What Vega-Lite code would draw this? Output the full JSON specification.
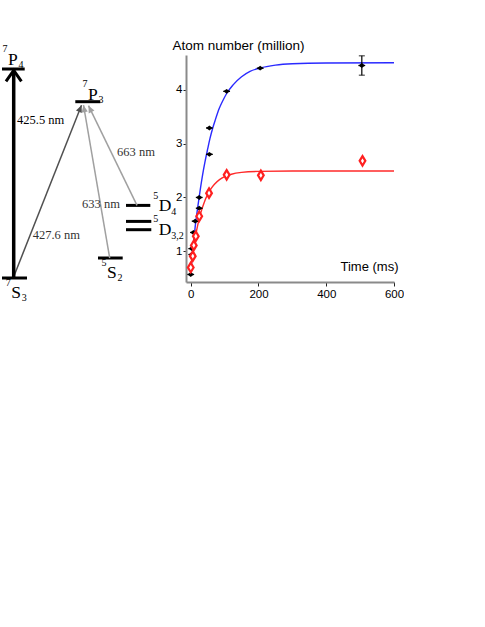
{
  "$schema": "https://vega.github.io/schema/vega-lite/v6.json",
  "padding": {"left": 0, "top": 38, "right": 0, "bottom": 0},
  "bounds": "flush",
  "spacing": 0,
  "resolve": {"scale": {"color": "independent"}},
  "config": {"view": {"stroke": null}, "font": "Liberation Sans"},
  "datasets": {
    "levels": [
      {"term": "7S3", "x1": 0, "x2": 2.5, "y": 0, "letter": "S", "sup": "7", "sub": "3", "lx": 0.93, "ly": -2.0},
      {"term": "7P4", "x1": 0, "x2": 2.27, "y": 20.9, "letter": "P", "sup": "7", "sub": "4", "lx": 0.6, "ly": 21.33},
      {"term": "7P3", "x1": 7.33, "x2": 9.83, "y": 17.63, "letter": "P", "sup": "7", "sub": "3", "lx": 8.6, "ly": 17.83},
      {"term": "5S2", "x1": 9.6, "x2": 12.07, "y": 2.0, "letter": "S", "sup": "5", "sub": "2", "lx": 10.5, "ly": 0.0},
      {"term": "5D4", "x1": 12.4, "x2": 14.83, "y": 7.26, "letter": "D", "sup": "5", "sub": "4", "lx": 15.67, "ly": 6.66},
      {"term": "5D3", "x1": 12.4, "x2": 14.93, "y": 5.66, "letter": "D", "sup": "5", "sub": "3,2", "lx": 15.67, "ly": 4.33},
      {"term": "5D2", "x1": 12.4, "x2": 14.93, "y": 4.83}
    ],
    "transitions": [
      {"label": "425.5 nm", "x0": 1.17, "y0": 0, "x1": 1.17, "y1": 20.76, "lx": 1.5, "ly": 15.76},
      {"label": "427.6 nm", "x0": 1.17, "y0": 0.13, "x1": 7.95, "y1": 17.28, "lx": 3.07, "ly": 4.26},
      {"label": "633 nm", "x0": 10.77, "y0": 2.0, "x1": 8.15, "y1": 17.28, "lx": 8.0, "ly": 7.43},
      {"label": "663 nm", "x0": 13.5, "y0": 7.26, "x1": 8.65, "y1": 17.23, "lx": 11.5, "ly": 12.56}
    ],
    "points": [
      {"series": "s1", "t": 0, "N": 0.57, "terr": 10},
      {"series": "s1", "t": 3, "N": 0.94, "terr": 10},
      {"series": "s1", "t": 3, "N": 1.05, "terr": 10},
      {"series": "s1", "t": 8, "N": 1.35, "terr": 10},
      {"series": "s1", "t": 13, "N": 1.56, "terr": 10},
      {"series": "s1", "t": 25, "N": 1.80, "terr": 10},
      {"series": "s1", "t": 25, "N": 2.00, "terr": 10},
      {"series": "s1", "t": 55, "N": 2.80, "terr": 10},
      {"series": "s1", "t": 55, "N": 3.29, "terr": 10},
      {"series": "s1", "t": 106, "N": 3.97, "terr": 10},
      {"series": "s1", "t": 205, "N": 4.40, "terr": 10},
      {"series": "s1", "t": 505, "N": 4.45, "terr": 10, "nerr": 0.18},
      {"series": "s2", "t": 0, "N": 0.70},
      {"series": "s2", "t": 6, "N": 0.91},
      {"series": "s2", "t": 9, "N": 1.11},
      {"series": "s2", "t": 15, "N": 1.28},
      {"series": "s2", "t": 25, "N": 1.65},
      {"series": "s2", "t": 54, "N": 2.08},
      {"series": "s2", "t": 106, "N": 2.42},
      {"series": "s2", "t": 207, "N": 2.41},
      {"series": "s2", "t": 507, "N": 2.68}
    ],
    "fits": [
      {"series": "s1", "t": 0, "N": 0.57},
      {"series": "s1", "t": 3, "N": 0.82},
      {"series": "s1", "t": 6, "N": 1.03},
      {"series": "s1", "t": 10, "N": 1.27},
      {"series": "s1", "t": 13, "N": 1.45},
      {"series": "s1", "t": 19.5, "N": 1.77},
      {"series": "s1", "t": 27, "N": 2.10},
      {"series": "s1", "t": 35, "N": 2.42},
      {"series": "s1", "t": 42, "N": 2.66},
      {"series": "s1", "t": 50, "N": 2.90},
      {"series": "s1", "t": 57, "N": 3.10},
      {"series": "s1", "t": 65, "N": 3.29},
      {"series": "s1", "t": 72, "N": 3.43},
      {"series": "s1", "t": 84, "N": 3.65},
      {"series": "s1", "t": 95, "N": 3.80},
      {"series": "s1", "t": 106, "N": 3.93},
      {"series": "s1", "t": 125, "N": 4.09},
      {"series": "s1", "t": 150, "N": 4.24},
      {"series": "s1", "t": 175, "N": 4.34},
      {"series": "s1", "t": 205, "N": 4.405},
      {"series": "s1", "t": 250, "N": 4.458},
      {"series": "s1", "t": 300, "N": 4.483},
      {"series": "s1", "t": 400, "N": 4.497},
      {"series": "s1", "t": 600, "N": 4.5},
      {"series": "s2", "t": 0, "N": 0.68},
      {"series": "s2", "t": 3, "N": 0.83},
      {"series": "s2", "t": 6, "N": 0.965},
      {"series": "s2", "t": 10, "N": 1.13},
      {"series": "s2", "t": 15, "N": 1.31},
      {"series": "s2", "t": 20, "N": 1.468},
      {"series": "s2", "t": 25, "N": 1.604},
      {"series": "s2", "t": 30, "N": 1.722},
      {"series": "s2", "t": 40, "N": 1.913},
      {"series": "s2", "t": 50, "N": 2.056},
      {"series": "s2", "t": 60, "N": 2.164},
      {"series": "s2", "t": 70, "N": 2.245},
      {"series": "s2", "t": 85, "N": 2.33},
      {"series": "s2", "t": 100, "N": 2.386},
      {"series": "s2", "t": 120, "N": 2.431},
      {"series": "s2", "t": 150, "N": 2.465},
      {"series": "s2", "t": 200, "N": 2.484},
      {"series": "s2", "t": 300, "N": 2.49},
      {"series": "s2", "t": 600, "N": 2.49}
    ]
  },
  "hconcat": [
    {
      "width": 184,
      "height": 227,
      "layer": [
        {
          "data": {"name": "levels"},
          "mark": {"type": "rule", "strokeWidth": 3, "color": "black"},
          "encoding": {
            "x": {"field": "x1", "type": "quantitative", "scale": {"domain": [0, 18.4], "nice": false, "zero": false}, "axis": null},
            "x2": {"field": "x2"},
            "y": {"field": "y", "type": "quantitative", "scale": {"domain": [-0.4, 22.3], "nice": false, "zero": false}, "axis": null}
          }
        },
        {
          "data": {"name": "transitions"},
          "transform": [{"filter": "datum.label != '425.5 nm'"}],
          "mark": {"type": "rule", "strokeWidth": 1.5},
          "encoding": {
            "x": {"field": "x0", "type": "quantitative"},
            "y": {"field": "y0", "type": "quantitative"},
            "x2": {"field": "x1"},
            "y2": {"field": "y1"},
            "color": {"field": "label", "type": "nominal", "scale": {"domain": ["427.6 nm", "633 nm", "663 nm"], "range": ["#505050", "#a0a0a0", "#a0a0a0"]}, "legend": null}
          }
        },
        {
          "data": {"name": "transitions"},
          "transform": [
            {"filter": "datum.label != '425.5 nm'"},
            {"calculate": "atan2(datum.x1 - datum.x0, datum.y1 - datum.y0) * 180 / PI", "as": "angle"}
          ],
          "mark": {"type": "point", "shape": "M0,0L0.5,1.1L-0.5,1.1Z", "filled": true, "opacity": 1, "strokeWidth": 0, "size": 162},
          "encoding": {
            "x": {"field": "x1", "type": "quantitative"},
            "y": {"field": "y1", "type": "quantitative"},
            "angle": {"field": "angle", "type": "quantitative", "scale": null},
            "color": {"field": "label", "type": "nominal", "scale": {"domain": ["427.6 nm", "633 nm", "663 nm"], "range": ["#505050", "#a0a0a0", "#a0a0a0"]}, "legend": null}
          }
        },
        {
          "data": {"name": "transitions"},
          "transform": [{"filter": "datum.label == '425.5 nm'"}],
          "mark": {"type": "rule", "strokeWidth": 3.5, "color": "black"},
          "encoding": {
            "x": {"field": "x0", "type": "quantitative"},
            "y": {"field": "y0", "type": "quantitative"},
            "x2": {"field": "x1"},
            "y2": {"field": "y1"}
          }
        },
        {
          "data": {"name": "transitions"},
          "transform": [{"filter": "datum.label == '425.5 nm'"}],
          "mark": {"type": "point", "shape": "M-0.7,1L0,0L0.7,1", "filled": false, "opacity": 1, "strokeWidth": 3, "strokeJoin": "miter", "color": "black", "size": 484},
          "encoding": {
            "x": {"field": "x1", "type": "quantitative"},
            "y": {"field": "y1", "type": "quantitative"}
          }
        },
        {
          "data": {"name": "transitions"},
          "mark": {"type": "text", "font": "Liberation Serif", "fontSize": 12.5, "align": "left", "baseline": "middle"},
          "encoding": {
            "x": {"field": "lx", "type": "quantitative"},
            "y": {"field": "ly", "type": "quantitative"},
            "text": {"field": "label"},
            "color": {"condition": {"test": "datum.label == '425.5 nm'", "value": "black"}, "value": "#333333"}
          }
        },
        {
          "data": {"name": "levels"},
          "transform": [{"filter": "isValid(datum.letter)"}],
          "mark": {"type": "text", "font": "Liberation Serif", "fontSize": 17.5, "align": "left", "baseline": "alphabetic", "color": "black"},
          "encoding": {
            "x": {"field": "lx", "type": "quantitative"},
            "y": {"field": "ly", "type": "quantitative"},
            "text": {"field": "letter"}
          }
        },
        {
          "data": {"name": "levels"},
          "transform": [{"filter": "isValid(datum.letter)"}],
          "mark": {"type": "text", "font": "Liberation Serif", "fontSize": 10, "align": "right", "baseline": "alphabetic", "dx": -0.5, "dy": -12.5, "color": "black"},
          "encoding": {
            "x": {"field": "lx", "type": "quantitative"},
            "y": {"field": "ly", "type": "quantitative"},
            "text": {"field": "sup"}
          }
        },
        {
          "data": {"name": "levels"},
          "transform": [{"filter": "isValid(datum.letter) && datum.letter != 'D'"}],
          "mark": {"type": "text", "font": "Liberation Serif", "fontSize": 10, "align": "left", "baseline": "alphabetic", "dx": 10.5, "dy": 3, "color": "black"},
          "encoding": {
            "x": {"field": "lx", "type": "quantitative"},
            "y": {"field": "ly", "type": "quantitative"},
            "text": {"field": "sub"}
          }
        },
        {
          "data": {"name": "levels"},
          "transform": [{"filter": "datum.letter == 'D'"}],
          "mark": {"type": "text", "font": "Liberation Serif", "fontSize": 10, "align": "left", "baseline": "alphabetic", "dx": 12.5, "dy": 4, "color": "black"},
          "encoding": {
            "x": {"field": "lx", "type": "quantitative"},
            "y": {"field": "ly", "type": "quantitative"},
            "text": {"field": "sub"}
          }
        }
      ]
    },
    {
      "width": 208,
      "height": 227,
      "encoding": {
        "x": {
          "field": "t", "type": "quantitative",
          "scale": {"domain": [-14, 600], "nice": false, "zero": false},
          "axis": {
            "values": [0, 200, 400, 600], "title": "Time (ms)", "grid": false,
            "tickSize": 4, "tickColor": "#222222", "domainColor": "#8a8a8a", "domainWidth": 2,
            "labelFont": "Liberation Sans", "labelFontSize": 11.5, "labelColor": "black", "labelPadding": 2, "labelFlush": false,
            "titleFont": "Liberation Sans", "titleFontSize": 13, "titleFontWeight": "normal", "titleColor": "black",
            "titleAlign": "right", "titleBaseline": "middle", "titleX": 212, "titleY": -16
          }
        },
        "y": {
          "field": "N", "type": "quantitative",
          "scale": {"domain": [0.43, 4.645], "nice": false, "zero": false},
          "axis": {
            "values": [1, 2, 3, 4], "title": "Atom number (million)", "grid": false,
            "tickSize": 3, "tickColor": "#222222", "domainColor": "#8a8a8a", "domainWidth": 2,
            "labelFont": "Liberation Sans", "labelFontSize": 11.5, "labelColor": "black", "labelPadding": 1, "labelFlush": false,
            "titleFont": "Liberation Sans", "titleFontSize": 13.5, "titleFontWeight": "normal", "titleColor": "black",
            "titleAngle": 0, "titleAlign": "left", "titleBaseline": "middle", "titleX": -14, "titleY": -10
          }
        }
      },
      "layer": [
        {
          "data": {"name": "fits"},
          "mark": {"type": "line", "strokeWidth": 1.4, "interpolate": "monotone"},
          "encoding": {
            "color": {"field": "series", "type": "nominal", "scale": {"domain": ["s1", "s2"], "range": ["#2a2aff", "#ff2a2a"]}, "legend": null}
          }
        },
        {
          "data": {"name": "points"},
          "transform": [{"filter": "datum.series == 's1'"}],
          "mark": {"type": "errorbar", "ticks": false, "color": "black", "thickness": 1.3},
          "encoding": {
            "xError": {"field": "terr"}
          }
        },
        {
          "data": {"name": "points"},
          "transform": [{"filter": "datum.series == 's1' && isValid(datum.nerr)"}],
          "mark": {"type": "errorbar", "ticks": {"size": 6, "color": "black"}, "color": "black", "thickness": 1.2},
          "encoding": {
            "yError": {"field": "nerr"}
          }
        },
        {
          "data": {"name": "points"},
          "transform": [{"filter": "datum.series == 's1'"}],
          "mark": {"type": "point", "shape": "M-1,0L0,-0.75L1,0L0,0.75Z", "filled": true, "opacity": 1, "strokeWidth": 0, "color": "black", "size": 42}
        },
        {
          "data": {"name": "points"},
          "transform": [{"filter": "datum.series == 's2'"}],
          "mark": {"type": "point", "shape": "M0,-1L0.6,0L0,1L-0.6,0Z", "filled": false, "fill": "white", "fillOpacity": 1, "opacity": 1, "stroke": "#ff2020", "strokeWidth": 2.2, "size": 90}
        }
      ]
    }
  ]
}
